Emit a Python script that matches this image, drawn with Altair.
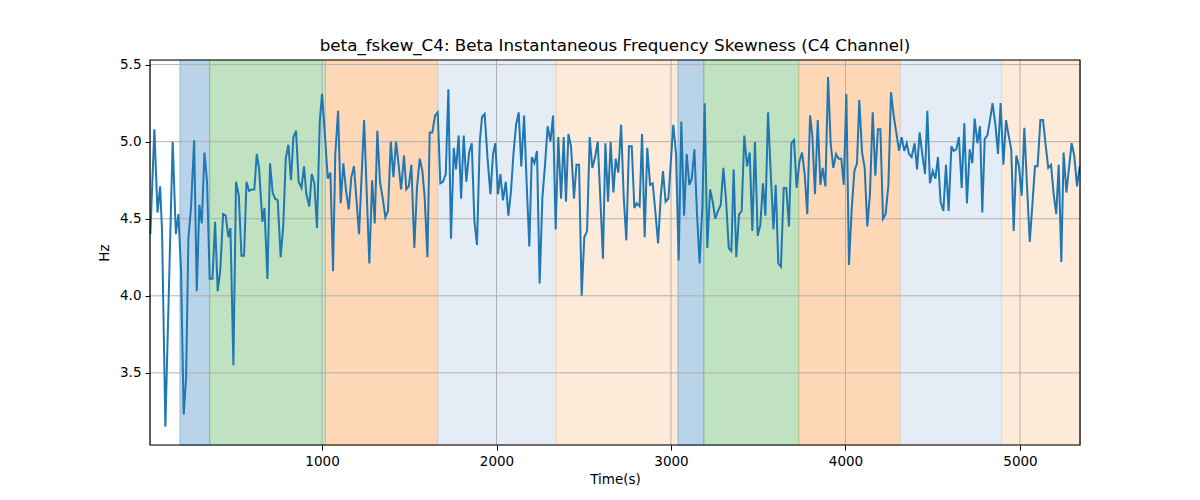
import altair as alt
import pandas as pd

# ---- data ----
time_s = [16, 39, 57, 72, 83, 102, 120, 144, 162, 177, 192, 207, 221, 234, 249, 267, 282, 297, 311, 326,
          341, 356, 372, 387, 402, 417, 433, 448, 463, 475, 492, 507, 523, 538, 553, 567, 582, 597,
          612, 626, 639, 658, 670, 687, 702, 717, 731, 746, 763, 778, 792, 807, 822, 836, 851, 866,
          882, 897, 910, 927, 941, 956, 971, 987, 1000, 1015, 1033, 1048, 1063, 1076, 1092, 1107,
          1122, 1138, 1153, 1168, 1183,
          1212, 1241, 1271, 1287, 1302, 1317, 1332, 1348, 1363, 1378, 1394, 1409, 1424, 1437, 1453,
          1470, 1483, 1497, 1512, 1529, 1544, 1560, 1575, 1588, 1604, 1617, 1632, 1648, 1663, 1678,
          1693, 1709, 1724, 1739, 1755, 1768, 1783, 1797,
          1812, 1827, 1843, 1858, 1873, 1888, 1904, 1917, 1932, 1948, 1965, 1980, 1993, 2009, 2022,
          2037, 2053, 2068, 2083, 2097, 2112, 2127, 2142, 2158, 2173, 2188, 2202, 2217, 2232, 2247,
          2263, 2278, 2293, 2309, 2324, 2339, 2354, 2370, 2385,
          2398, 2412, 2427, 2444, 2458, 2473, 2488, 2503, 2519, 2534, 2549, 2565, 2580, 2595, 2610,
          2624, 2639, 2654, 2670, 2683, 2698, 2714, 2729, 2744, 2759, 2775, 2790, 2803, 2820, 2834,
          2849, 2864, 2880, 2895, 2910, 2926, 2941, 2954, 2969, 2985,
          3013, 3029, 3044, 3059, 3075, 3090, 3105, 3119, 3134, 3149, 3164, 3180, 3193, 3208, 3224,
          3239, 3254, 3269, 3285, 3300, 3315, 3331, 3346, 3359, 3374, 3390, 3405, 3420, 3436, 3451,
          3466, 3481, 3497, 3512, 3527, 3541, 3556, 3571, 3587,
          3600, 3615, 3630, 3646, 3661, 3676, 3690, 3705, 3720, 3736, 3751, 3766, 3781, 3797, 3810,
          3825, 3841, 3856, 3869, 3885, 3900, 3915, 3930, 3946, 3961, 3976, 3990, 4005, 4020, 4035,
          4051, 4066, 4079, 4095, 4110, 4125, 4140, 4156, 4171,
          4186, 4200, 4215, 4230, 4246, 4261, 4276, 4291, 4307, 4322, 4337, 4351, 4364, 4379, 4396,
          4410, 4425, 4440, 4456, 4469, 4484, 4500, 4515, 4530, 4545, 4561, 4576, 4591, 4607, 4620,
          4635, 4650, 4666, 4681, 4696, 4712, 4727, 4740, 4756, 4771,
          4784, 4798, 4813, 4828, 4843, 4859, 4874, 4889, 4905, 4920, 4935, 4950, 4964, 4979, 4994,
          5010, 5025, 5040, 5056, 5071, 5086, 5101, 5117, 5132, 5147, 5162, 5178, 5193, 5208, 5222,
          5237, 5250, 5266, 5281, 5296, 5311, 5327, 5342]

hz = [4.40, 5.08, 4.54, 4.71, 4.42, 3.15, 3.94, 5.00, 4.40, 4.53, 4.16, 3.23, 3.47, 4.37, 4.57, 5.01, 4.03,
      4.59, 4.47, 4.93, 4.74, 4.11, 4.11, 4.48, 4.03, 4.17, 4.53, 4.52, 4.38, 4.44, 3.55, 4.74, 4.65,
      4.26, 4.26, 4.74, 4.68, 4.69,
      4.69, 4.92, 4.83, 4.48, 4.57, 4.11, 4.86, 4.67, 4.63, 4.62, 4.25, 4.46, 4.89, 4.98, 4.75, 5.03,
      5.07, 4.74, 4.70, 4.84, 4.66, 4.58, 4.79, 4.73, 4.44, 5.13, 5.31, 5.07, 4.76, 4.80, 4.16, 4.92,
      5.20, 4.60, 4.86, 4.68, 4.56, 4.77, 4.84,
      4.40, 5.14, 4.21, 4.75, 4.47, 5.07, 4.74, 4.63, 4.51, 4.55, 5.00, 4.77, 5.00, 4.87, 4.69, 4.91,
      4.69, 4.71, 4.85, 4.31, 4.70, 4.89, 4.81, 4.64, 4.25, 5.06, 5.06, 5.17, 5.19, 4.73, 4.74, 4.79,
      5.34, 4.37, 4.96, 4.82, 5.04, 4.63,
      5.04, 4.74, 4.93, 4.99, 4.49, 4.33, 5.00, 5.16, 5.18, 4.90, 4.66, 4.92, 4.99, 4.66, 4.79, 4.62,
      4.74, 4.52, 4.68, 4.92, 5.11, 5.19, 4.84, 5.17, 4.72, 4.32, 4.90, 4.86, 4.94, 4.08, 4.64, 4.85,
      5.10, 5.00, 5.17, 4.43, 5.03, 4.63, 5.03,
      4.61, 5.05, 4.97, 4.63, 4.85, 4.85, 4.00, 4.38, 4.42, 5.03, 4.83, 4.90, 5.00, 4.63, 4.24, 4.99,
      4.61, 5.00, 4.67, 4.89, 4.80, 5.11, 4.64, 4.36, 4.97, 4.97, 4.57, 4.60, 4.58, 5.05, 4.38, 4.96,
      4.72, 4.73, 4.55, 4.34, 4.64, 4.81, 4.61, 4.63,
      5.11, 4.92, 4.23, 5.13, 4.52, 4.92, 4.72, 4.76, 4.95, 4.53, 4.21, 4.59, 5.25, 4.31, 4.69, 4.61,
      4.50, 4.55, 4.59, 4.83, 4.63, 4.31, 4.29, 4.82, 4.25, 4.53, 4.55, 5.04, 4.84, 4.93, 4.42, 5.00,
      4.39, 4.46, 4.73, 4.52, 5.19, 4.81, 4.43,
      4.72, 4.21, 4.19, 4.70, 4.70, 4.45, 4.99, 5.01, 4.70, 4.87, 4.93, 4.79, 4.53, 5.17, 5.04, 4.66,
      5.14, 4.72, 4.83, 4.71, 5.42, 4.99, 4.83, 4.92, 4.89, 4.89, 4.72, 5.31, 4.20, 4.55, 4.81, 4.86,
      5.27, 4.93, 4.83, 4.45, 4.66, 5.19, 4.78,
      5.08, 5.08, 4.50, 4.53, 4.72, 5.32, 5.17, 5.06, 4.94, 5.03, 4.94, 4.99, 4.92, 4.90, 4.99, 4.82,
      5.06, 4.92, 4.79, 5.20, 4.73, 4.81, 4.76, 4.90, 4.61, 4.55, 4.85, 4.55, 4.97, 4.94, 4.95, 5.03,
      4.70, 5.12, 4.60, 4.95, 4.86, 5.15, 4.99, 5.10,
      4.54, 5.02, 5.04, 5.14, 5.25, 5.11, 4.92, 5.25, 4.85, 5.14, 5.04, 4.95, 4.42, 4.91, 4.84, 4.65,
      5.09, 4.72, 4.35, 4.59, 4.84, 4.84, 5.14, 5.14, 4.98, 4.83, 4.85, 4.66, 4.53, 4.85, 4.22, 4.93,
      4.67, 4.83, 4.99, 4.91, 4.71, 4.84]

band_start = [185, 357, 1020, 1665, 2341, 3040, 3189, 3734, 4315, 4895]
band_end = [357, 1020, 1665, 2341, 3040, 3189, 3734, 4315, 4895, 5344]
band_color = ["#b9d4e8", "#c0e2c0", "#fed8b6", "#e4ecf6", "#feead8",
              "#b9d4e8", "#c0e2c0", "#fed8b6", "#e4ecf6", "#feead8"]
band_edge = ["#1f77b4", "#2ca02c", "#ff7f0e", "#aec7e8", "#ffbb78",
             "#1f77b4", "#2ca02c", "#ff7f0e", "#aec7e8", "#ffbb78"]

x_ticks = [1000, 2000, 3000, 4000, 5000]
y_ticks = [3.5, 4.0, 4.5, 5.0, 5.5]
x_domain = [14, 5344]
y_domain = [3.032, 5.53]

W, H = 930, 385
FONT = "DejaVu Sans"

line_df = pd.DataFrame({"t": time_s, "v": hz})
band_df = pd.DataFrame({"s": band_start, "e": band_end, "c": band_color, "ec": band_edge})
xg_df = pd.DataFrame({"x": x_ticks})
yg_df = pd.DataFrame({"y": y_ticks})

xscale = alt.Scale(domain=x_domain, nice=False, zero=False)
yscale = alt.Scale(domain=y_domain, nice=False, zero=False)

xaxis = alt.Axis(values=x_ticks, format="d", title="Time(s)", grid=False, domain=False,
                 tickColor="black", tickSize=5, tickWidth=1, labelPadding=4,
                 labelFont=FONT, labelFontSize=13.5, labelColor="black",
                 titleFont=FONT, titleFontSize=13.5, titleFontWeight="normal", titleColor="black",
                 titlePadding=5, labelFlush=False)
yaxis = alt.Axis(values=y_ticks, format=".1f", title="Hz", grid=False, domain=False,
                 tickColor="black", tickSize=5, tickWidth=1, labelPadding=4,
                 labelFont=FONT, labelFontSize=13.5, labelColor="black",
                 titleFont=FONT, titleFontSize=13.5, titleFontWeight="normal", titleColor="black",
                 titlePadding=8, labelFlush=False)

bands = alt.Chart(band_df).mark_rect(strokeWidth=1, strokeOpacity=0.35).encode(
    x=alt.X("s:Q", scale=xscale, axis=xaxis),
    x2="e:Q",
    y=alt.value(0),
    y2=alt.value(H),
    fill=alt.Fill("c:N", scale=None),
    stroke=alt.Stroke("ec:N", scale=None),
)

xgrid = alt.Chart(xg_df).mark_rule(color="#b0b0b0", strokeWidth=1).encode(
    x=alt.X("x:Q", scale=xscale)
)
ygrid = alt.Chart(yg_df).mark_rule(color="#b0b0b0", strokeWidth=1).encode(
    y=alt.Y("y:Q", scale=yscale, axis=yaxis)
)

line = alt.Chart(line_df).mark_line(color="#1f77b4", strokeWidth=2).encode(
    x=alt.X("t:Q", scale=xscale),
    y=alt.Y("v:Q", scale=yscale),
)

frame = alt.Chart(yg_df).mark_rect(fill=None, stroke="black", strokeWidth=1.2, fillOpacity=0).encode(
    x=alt.value(0), x2=alt.value(W), y=alt.value(0), y2=alt.value(H)
).transform_filter(alt.datum.y == 5.5)

chart = alt.layer(bands, xgrid, ygrid, line, frame).properties(
    width=W,
    height=H,
    title=alt.TitleParams(
        "beta_fskew_C4: Beta Instantaneous Frequency Skewness (C4 Channel)",
        font=FONT, fontSize=16.7, fontWeight="normal", color="black",
        anchor="middle", frame="group", baseline="bottom", offset=-14,
    ),
    autosize=alt.AutoSizeParams(type="none"),
    padding={"left": 142, "top": 52, "right": 100, "bottom": 46},
).configure_view(stroke=None).configure(background="white")

chart.save("out.html", embed_options={"renderer": "svg", "actions": False})
